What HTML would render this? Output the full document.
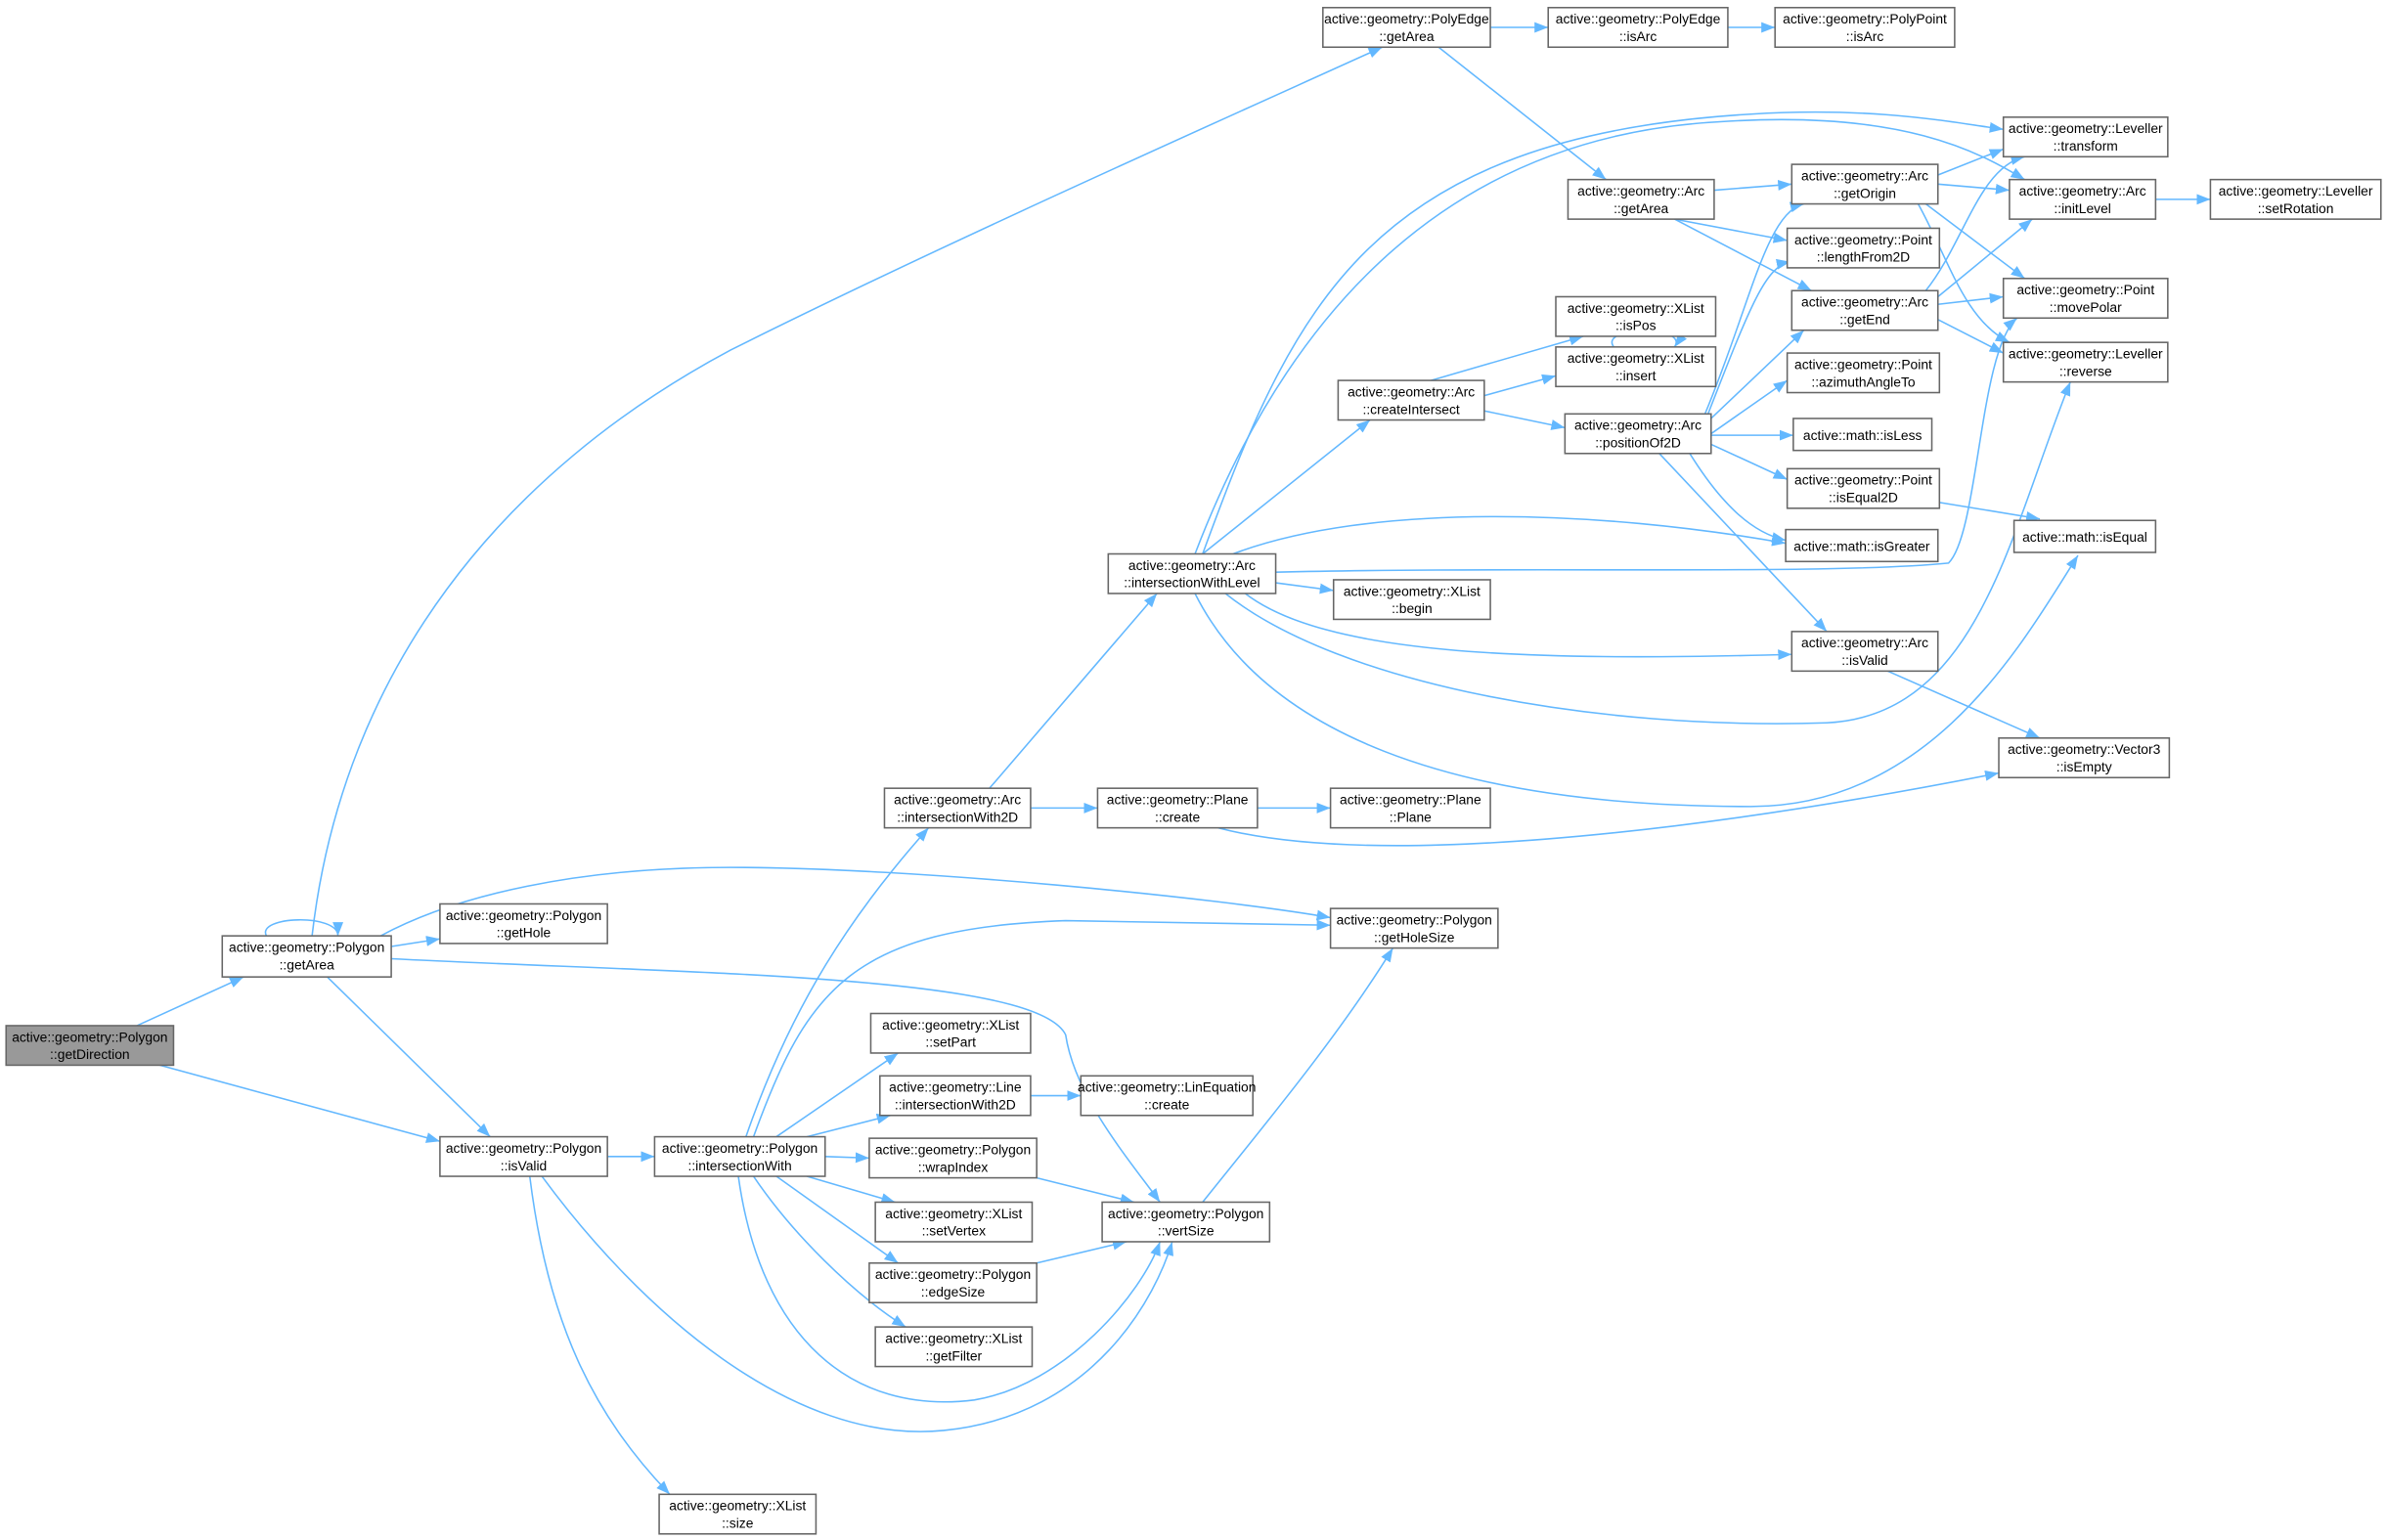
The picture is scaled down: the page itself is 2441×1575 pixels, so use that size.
<!DOCTYPE html>
<html><head><meta charset="utf-8"><style>
html,body{margin:0;padding:0;background:#fff;}
svg{display:block;}
text{font-family:"Liberation Sans",Arial,sans-serif;font-size:8.9px;fill:#000;text-anchor:middle;}
.b{fill:#fff;stroke:#666;stroke-width:1;}
.g{fill:#999;stroke:#666;stroke-width:1;}
path.e{fill:none;stroke:#63b8ff;stroke-width:1;marker-end:url(#a);}
</style></head><body>
<svg width="2441" height="1575" viewBox="0 0 1568 1012" preserveAspectRatio="none" xmlns="http://www.w3.org/2000/svg">
<defs><marker id="a" markerUnits="userSpaceOnUse" markerWidth="10" markerHeight="8" refX="9" refY="3.5" orient="auto"><path d="M0,0 L9,3.5 L0,7 z" fill="#63b8ff"/></marker></defs>
<g>
<path class="e" d="M90,674 L160,642"/>
<path class="e" d="M105,700 L289,750"/>
<path class="e" d="M175,615 C168,602 222,600 222,615"/>
<path class="e" d="M205,615 C225,440 330,310 480,230 C620,160 800,80 908,31"/>
<path class="e" d="M257,622 L289,617"/>
<path class="e" d="M250,615 C300,588 380,570 480,570 C600,570 800,590 874,603"/>
<path class="e" d="M257,630 C450,640 680,640 700,680 C706,720 740,760 762,790"/>
<path class="e" d="M215,642 L322,747"/>
<path class="e" d="M399,760 L430,760"/>
<path class="e" d="M348,773 C360,870 390,930 440,982"/>
<path class="e" d="M356,773 C420,860 520,950 620,940 C720,930 760,850 770,816"/>
<path class="e" d="M490,747 C520,660 560,600 610,544"/>
<path class="e" d="M495,747 C530,650 560,610 700,605 L874,608"/>
<path class="e" d="M510,747 L590,692"/>
<path class="e" d="M530,747 L585,733"/>
<path class="e" d="M542,760 L571,761"/>
<path class="e" d="M530,773 L588,790"/>
<path class="e" d="M510,773 L590,830"/>
<path class="e" d="M495,773 C520,810 560,850 595,872"/>
<path class="e" d="M485,773 C500,880 560,930 640,920 C700,910 750,850 762,816"/>
<path class="e" d="M677,720 L710,720"/>
<path class="e" d="M681,774 L745,790"/>
<path class="e" d="M681,830 L740,816"/>
<path class="e" d="M790,790 C830,740 880,680 915,623"/>
<path class="e" d="M650,518 L760,390"/>
<path class="e" d="M677,531 L721,531"/>
<path class="e" d="M826,531 L874,531"/>
<path class="e" d="M800,544 C900,570 1100,550 1313,508"/>
<path class="e" d="M790,364 L900,276"/>
<path class="e" d="M790,364 C850,200 900,90 1150,75 C1230,70 1280,80 1316,85"/>
<path class="e" d="M785,364 C840,220 940,90 1130,80 C1250,72 1300,100 1330,118"/>
<path class="e" d="M810,364 C900,330 1050,335 1173,357"/>
<path class="e" d="M838,383 L876,388"/>
<path class="e" d="M818,390 C870,430 1000,435 1177,430"/>
<path class="e" d="M838,376 C1000,372 1200,378 1280,370 C1300,350 1300,230 1325,209"/>
<path class="e" d="M805,390 C880,450 1050,480 1200,475 C1300,470 1320,350 1360,251"/>
<path class="e" d="M785,390 C830,480 950,530 1150,530 C1270,530 1330,420 1365,365"/>
<path class="e" d="M940,250 L1040,221"/>
<path class="e" d="M975,260 L1022,247"/>
<path class="e" d="M975,270 L1028,281"/>
<path class="e" d="M1060,228 C1050,214 1110,214 1100,228"/>
<path class="e" d="M1120,272 C1150,200 1160,140 1185,134"/>
<path class="e" d="M1122,272 C1150,200 1160,175 1176,172"/>
<path class="e" d="M1124,275 L1185,217"/>
<path class="e" d="M1124,285 L1174,250"/>
<path class="e" d="M1124,286 L1178,286"/>
<path class="e" d="M1124,292 L1174,315"/>
<path class="e" d="M1110,298 C1130,330 1150,350 1173,355"/>
<path class="e" d="M1090,298 L1200,415"/>
<path class="e" d="M1265,191 C1290,160 1300,110 1330,103"/>
<path class="e" d="M979,18 L1017,18"/>
<path class="e" d="M1135,18 L1166,18"/>
<path class="e" d="M945,31 L1055,118"/>
<path class="e" d="M1126,125 L1177,121"/>
<path class="e" d="M1100,144 L1174,158"/>
<path class="e" d="M1100,144 L1190,191"/>
<path class="e" d="M1273,115 L1316,98"/>
<path class="e" d="M1273,121 L1320,125"/>
<path class="e" d="M1265,134 L1330,183"/>
<path class="e" d="M1260,134 C1280,170 1290,210 1320,225"/>
<path class="e" d="M1273,195 L1335,144"/>
<path class="e" d="M1273,200 L1316,195"/>
<path class="e" d="M1273,210 L1316,232"/>
<path class="e" d="M1416,131 L1452,131"/>
<path class="e" d="M1273,330 L1340,341"/>
<path class="e" d="M1240,441 L1340,485"/>
</g>
<g>
<rect class="g" x="4" y="674" width="110" height="26"/><text x="59" y="684.5">active::geometry::Polygon</text><text x="59" y="696">::getDirection</text>
<rect class="b" x="146" y="615" width="111" height="27"/><text x="201.5" y="625.5">active::geometry::Polygon</text><text x="201.5" y="637">::getArea</text>
<rect class="b" x="289" y="594" width="110" height="26"/><text x="344" y="604.5">active::geometry::Polygon</text><text x="344" y="616">::getHole</text>
<rect class="b" x="289" y="747" width="110" height="26"/><text x="344" y="757.5">active::geometry::Polygon</text><text x="344" y="769">::isValid</text>
<rect class="b" x="433" y="982" width="103" height="26"/><text x="484.5" y="992.5">active::geometry::XList</text><text x="484.5" y="1004">::size</text>
<rect class="b" x="430" y="747" width="112" height="26"/><text x="486" y="757.5">active::geometry::Polygon</text><text x="486" y="769">::intersectionWith</text>
<rect class="b" x="581" y="518" width="96" height="26"/><text x="629" y="528.5">active::geometry::Arc</text><text x="629" y="540">::intersectionWith2D</text>
<rect class="b" x="572" y="666" width="105" height="26"/><text x="624.5" y="676.5">active::geometry::XList</text><text x="624.5" y="688">::setPart</text>
<rect class="b" x="578" y="707" width="99" height="26"/><text x="627.5" y="717.5">active::geometry::Line</text><text x="627.5" y="729">::intersectionWith2D</text>
<rect class="b" x="571" y="748" width="110" height="26"/><text x="626" y="758.5">active::geometry::Polygon</text><text x="626" y="770">::wrapIndex</text>
<rect class="b" x="575" y="790" width="103" height="26"/><text x="626.5" y="800.5">active::geometry::XList</text><text x="626.5" y="812">::setVertex</text>
<rect class="b" x="571" y="830" width="110" height="26"/><text x="626" y="840.5">active::geometry::Polygon</text><text x="626" y="852">::edgeSize</text>
<rect class="b" x="575" y="872" width="103" height="26"/><text x="626.5" y="882.5">active::geometry::XList</text><text x="626.5" y="894">::getFilter</text>
<rect class="b" x="710" y="707" width="113" height="26"/><text x="766.5" y="717.5">active::geometry::LinEquation</text><text x="766.5" y="729">::create</text>
<rect class="b" x="724" y="790" width="110" height="26"/><text x="779" y="800.5">active::geometry::Polygon</text><text x="779" y="812">::vertSize</text>
<rect class="b" x="874" y="597" width="110" height="26"/><text x="929" y="607.5">active::geometry::Polygon</text><text x="929" y="619">::getHoleSize</text>
<rect class="b" x="721" y="518" width="105" height="26"/><text x="773.5" y="528.5">active::geometry::Plane</text><text x="773.5" y="540">::create</text>
<rect class="b" x="874" y="518" width="105" height="26"/><text x="926.5" y="528.5">active::geometry::Plane</text><text x="926.5" y="540">::Plane</text>
<rect class="b" x="728" y="364" width="110" height="26"/><text x="783" y="374.5">active::geometry::Arc</text><text x="783" y="386">::intersectionWithLevel</text>
<rect class="b" x="876" y="381" width="103" height="26"/><text x="927.5" y="391.5">active::geometry::XList</text><text x="927.5" y="403">::begin</text>
<rect class="b" x="879" y="250" width="96" height="26"/><text x="927" y="260.5">active::geometry::Arc</text><text x="927" y="272">::createIntersect</text>
<rect class="b" x="1022" y="195" width="105" height="26"/><text x="1074.5" y="205.5">active::geometry::XList</text><text x="1074.5" y="217">::isPos</text>
<rect class="b" x="1022" y="228" width="105" height="26"/><text x="1074.5" y="238.5">active::geometry::XList</text><text x="1074.5" y="250">::insert</text>
<rect class="b" x="1028" y="272" width="96" height="26"/><text x="1076" y="282.5">active::geometry::Arc</text><text x="1076" y="294">::positionOf2D</text>
<rect class="b" x="869" y="5" width="110" height="26"/><text x="924" y="15.5">active::geometry::PolyEdge</text><text x="924" y="27">::getArea</text>
<rect class="b" x="1017" y="5" width="118" height="26"/><text x="1076" y="15.5">active::geometry::PolyEdge</text><text x="1076" y="27">::isArc</text>
<rect class="b" x="1166" y="5" width="118" height="26"/><text x="1225" y="15.5">active::geometry::PolyPoint</text><text x="1225" y="27">::isArc</text>
<rect class="b" x="1030" y="118" width="96" height="26"/><text x="1078" y="128.5">active::geometry::Arc</text><text x="1078" y="140">::getArea</text>
<rect class="b" x="1177" y="108" width="96" height="26"/><text x="1225" y="118.5">active::geometry::Arc</text><text x="1225" y="130">::getOrigin</text>
<rect class="b" x="1174" y="150" width="100" height="26"/><text x="1224" y="160.5">active::geometry::Point</text><text x="1224" y="172">::lengthFrom2D</text>
<rect class="b" x="1177" y="191" width="96" height="26"/><text x="1225" y="201.5">active::geometry::Arc</text><text x="1225" y="213">::getEnd</text>
<rect class="b" x="1174" y="232" width="100" height="26"/><text x="1224" y="242.5">active::geometry::Point</text><text x="1224" y="254">::azimuthAngleTo</text>
<rect class="b" x="1178" y="275" width="91" height="21"/><text x="1223.5" y="289">active::math::isLess</text>
<rect class="b" x="1174" y="308" width="100" height="26"/><text x="1224" y="318.5">active::geometry::Point</text><text x="1224" y="330">::isEqual2D</text>
<rect class="b" x="1173" y="348" width="100" height="21"/><text x="1223" y="362">active::math::isGreater</text>
<rect class="b" x="1177" y="415" width="96" height="26"/><text x="1225" y="425.5">active::geometry::Arc</text><text x="1225" y="437">::isValid</text>
<rect class="b" x="1316" y="77" width="108" height="26"/><text x="1370" y="87.5">active::geometry::Leveller</text><text x="1370" y="99">::transform</text>
<rect class="b" x="1320" y="118" width="96" height="26"/><text x="1368" y="128.5">active::geometry::Arc</text><text x="1368" y="140">::initLevel</text>
<rect class="b" x="1452" y="118" width="112" height="26"/><text x="1508" y="128.5">active::geometry::Leveller</text><text x="1508" y="140">::setRotation</text>
<rect class="b" x="1316" y="183" width="108" height="26"/><text x="1370" y="193.5">active::geometry::Point</text><text x="1370" y="205">::movePolar</text>
<rect class="b" x="1316" y="225" width="108" height="26"/><text x="1370" y="235.5">active::geometry::Leveller</text><text x="1370" y="247">::reverse</text>
<rect class="b" x="1323" y="342" width="93" height="21"/><text x="1369.5" y="356">active::math::isEqual</text>
<rect class="b" x="1313" y="485" width="112" height="26"/><text x="1369" y="495.5">active::geometry::Vector3</text><text x="1369" y="507">::isEmpty</text>
</g>
</svg>
</body></html>
